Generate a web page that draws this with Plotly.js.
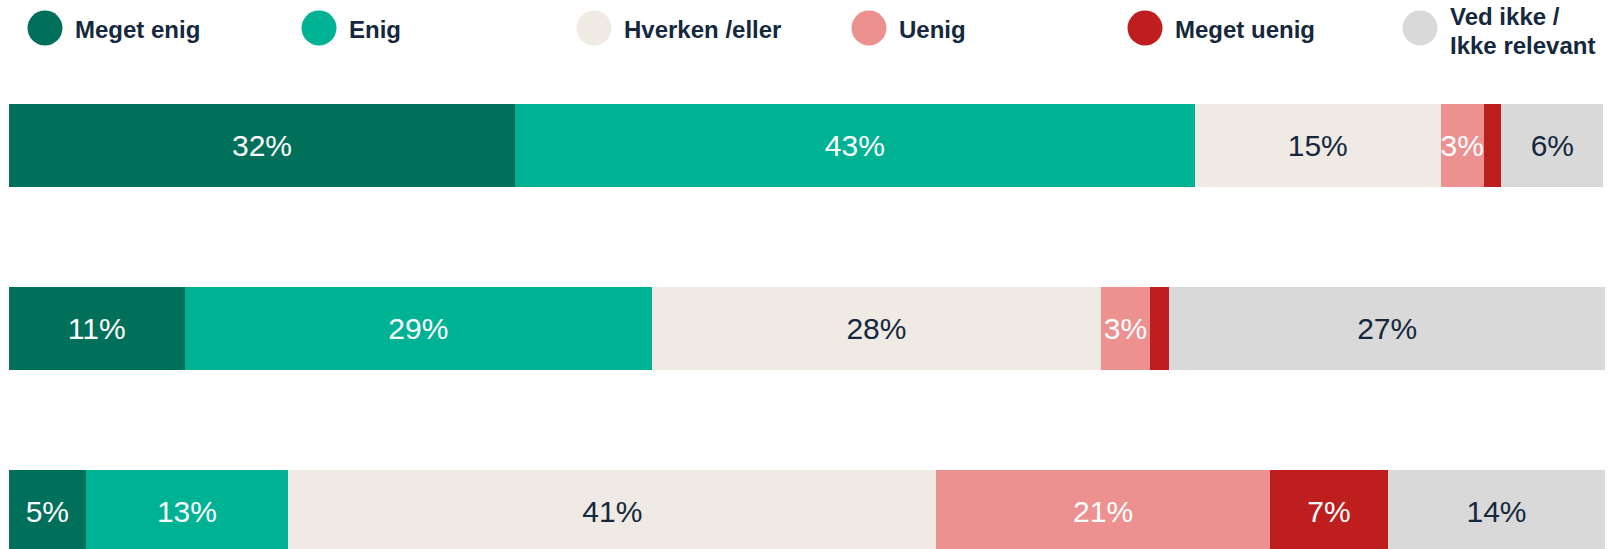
<!DOCTYPE html>
<html>
<head>
<meta charset="utf-8">
<script src="https://cdn.plot.ly/plotly-3.0.1.min.js"></script>
<style>html,body{margin:0;padding:0;background:#fff;}#chart{width:1619px;height:549px;}</style>
</head>
<body>
<div id="chart"></div>
<script>
// ---- data ----
const categories = ["Udsagn 1", "Udsagn 2", "Udsagn 3"];
const seriesNames = ["Meget enig", "Enig", "Hverken /eller", "Uenig", "Meget uenig", "Ved ikke /<br>Ikke relevant"];
const megetEnig  = [31.7, 11.0, 4.8];
const enig       = [42.6, 29.3, 12.7];
const hverken    = [15.4, 28.1, 40.6];
const uenig      = [2.7, 3.1, 20.9];
const megetUenig = [1.1, 1.2, 7.4];
const vedIkke    = [6.4, 27.3, 13.6];
const seriesValues = [megetEnig, enig, hverken, uenig, megetUenig, vedIkke];

// ---- styles ----
const colors = ["#00705A", "#00B294", "#EFEAE3", "#EC9190", "#BE1E1E", "#D9D9D9"];
const textColors = ["#FFFFFF", "#FFFFFF", "#15283E", "#FFFFFF", "#FFFFFF", "#15283E"];
const NAVY = "#15283E";
const FONT = "Liberation Sans, Arial, sans-serif";

const W = 1619, H = 549;
const M = {l: 9, r: 14, t: 54, b: 0};
const plotW = W - M.l - M.r, plotH = H - M.t - M.b;
const px2paperX = px => (px - M.l) / plotW;
const py2paperY = py => (H - M.b - py) / plotH;

const traces = seriesValues.map((vals, i) => ({
  type: "bar",
  orientation: "h",
  name: seriesNames[i],
  y: categories,
  x: vals,
  marker: {color: colors[i], line: {width: 0}},
  text: vals.map(v => v >= 2 ? Math.round(v) + "%" : ""),
  textposition: "inside",
  insidetextanchor: "middle",
  textangle: 0,
  constraintext: "none",
  textfont: {family: FONT, size: 30, color: textColors[i]},
  hoverinfo: "skip",
  showlegend: false,
  cliponaxis: true
}));

// custom legend
const legendCx = [45, 319, 594, 869, 1145, 1420];
const shapes = [];
const annotations = [];
seriesNames.forEach((n, i) => {
  shapes.push({
    type: "circle", xref: "paper", yref: "paper",
    xsizemode: "pixel", ysizemode: "pixel",
    xanchor: px2paperX(legendCx[i]), yanchor: py2paperY(28),
    x0: -17.5, x1: 17.5, y0: -17.5, y1: 17.5,
    fillcolor: colors[i], line: {width: 0}
  });
  const lines = n.split("<br>");
  lines.forEach((ln, k) => {
    const yc = lines.length === 1 ? 30 : 17 + 28 * k;
    annotations.push({
      xref: "paper", yref: "paper",
      x: px2paperX(legendCx[i] + 28), y: py2paperY(yc),
      xanchor: "left", yanchor: "middle",
      text: "<b>" + ln + "</b>", showarrow: false,
      font: {family: FONT, size: 24, color: NAVY}
    });
  });
});

const layout = {
  width: W, height: H,
  margin: M,
  paper_bgcolor: "#FFFFFF",
  plot_bgcolor: "#FFFFFF",
  barmode: "stack",
  bargap: 0.546,
  showlegend: false,
  xaxis: {range: [0, 100], visible: false, fixedrange: true},
  yaxis: {type: "category", range: [2.2049, -0.5], visible: false, fixedrange: true},
  shapes: shapes,
  annotations: annotations,
  font: {family: FONT}
};

Plotly.newPlot("chart", traces, layout, {displayModeBar: false, staticPlot: true});
</script>
</body>
</html>
